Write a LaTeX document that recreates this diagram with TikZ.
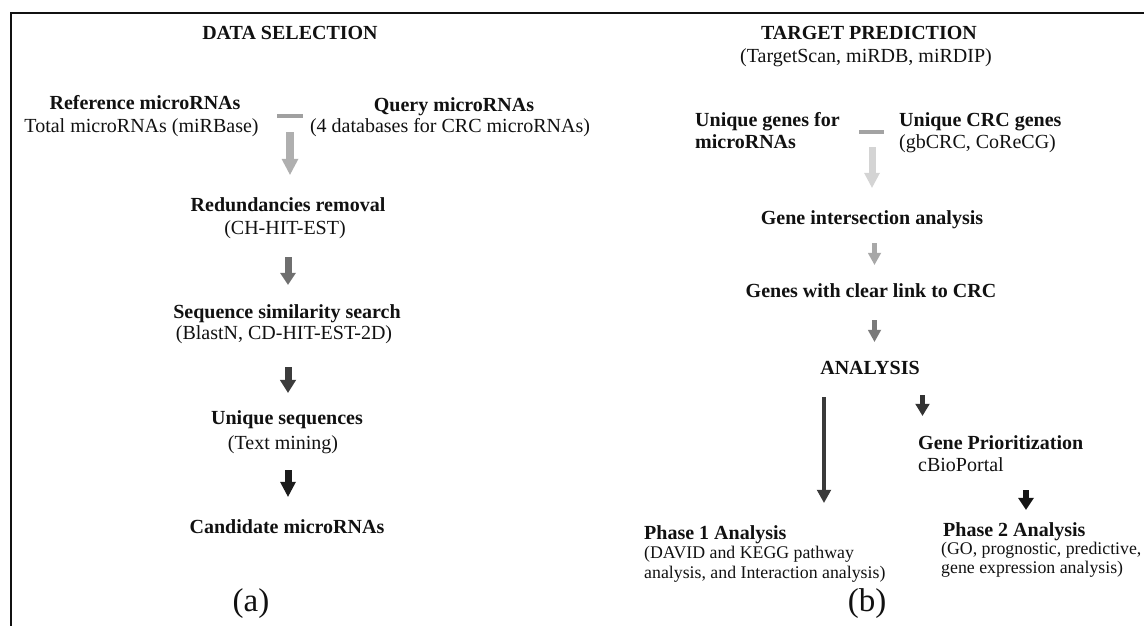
\documentclass[tikz,border=0pt]{standalone}
\usepackage{fontspec}
\setmainfont{Liberation Serif}
\usetikzlibrary{arrows.meta}
\definecolor{txt}{HTML}{111111}
\definecolor{cdashL}{HTML}{A0A0A0}
\definecolor{cLa}{HTML}{AFAFAF}
\definecolor{cLb}{HTML}{6F6F6F}
\definecolor{cLc}{HTML}{3C3C3C}
\definecolor{cLd}{HTML}{1C1C1C}
\definecolor{cdashR}{HTML}{A3A3A3}
\definecolor{cRa}{HTML}{D4D4D4}
\definecolor{cRb}{HTML}{A8A8A8}
\definecolor{cRc}{HTML}{7A7A7A}
\definecolor{cRd}{HTML}{3A3A3A}
\definecolor{cRe}{HTML}{333333}
\definecolor{cRf}{HTML}{141414}
\tikzset{
  hd/.style={inner sep=0pt, anchor=base, text=txt, text height=14pt, text depth=5pt,
    font=\fontsize{20}{24}\selectfont\bfseries},
  rg/.style={inner sep=0pt, anchor=base, text=txt, text height=14pt, text depth=5pt,
    font=\fontsize{20}{24}\selectfont},
  sm/.style={inner sep=0pt, anchor=base west, text=txt, text height=13pt, text depth=4pt,
    font=\fontsize{17.8}{22}\selectfont},
  lab/.style={inner sep=0pt, anchor=base, text=txt, font=\fontsize{33}{40}\selectfont},
  minus/.style={fill=#1, inner sep=0pt, minimum width=26pt, minimum height=4.5pt},
  barrow/.style n args={4}{line width=#1, draw=#4,
    -{Triangle[width=#2, length=#3, line width=0pt]}},
}
\begin{document}
\begin{tikzpicture}[x=1pt, y=-1pt]
\useasboundingbox (0,0) rectangle (1144,626);
% frame
\draw[line width=2pt, txt] (11,626) -- (11,13) -- (1144,13);

% ---------- (a) DATA SELECTION ----------
\node[hd] (dsel) at (290,40) {DATA SELECTION};
\node[hd] (ref)  at (145,110) {Reference microRNAs};
\node[rg] (refs) at (141.5,132) {Total microRNAs (miRBase)};
\node[hd] (qry)  at (454,111) {Query microRNAs};
\node[rg] (qrys) at (450,132) {(4 databases for CRC microRNAs)};
\node[minus=cdashL] (dashL) at (290,116) {};
\node[hd] (red)  at (288,211) {Redundancies removal};
\node[rg] (reds) at (285,234) {(CH-HIT-EST)};
\node[hd] (seq)  at (287,318) {Sequence similarity search};
\node[rg] (seqs) at (284,339) {(BlastN, CD-HIT-EST-2D)};
\node[hd] (uni)  at (287,424) {Unique sequences};
\node[rg] (unis) at (283,449) {(Text mining)};
\node[hd] (cand) at (287,533) {Candidate microRNAs};
\node[lab] (la)  at (251,611) {(a)};

\coordinate (xa1) at (290,0);
\coordinate (xa2) at (288,0);
\draw[barrow={8pt}{17pt}{16pt}{cLa}, shorten <=13.75pt, shorten >=22pt]
  (xa1 |- dashL.south) -- (xa1 |- red.north);
\draw[barrow={7pt}{16pt}{12pt}{cLb}, shorten <=18pt, shorten >=19pt]
  (xa2 |- reds.south) -- (xa2 |- seq.north);
\draw[barrow={7pt}{16.5pt}{13pt}{cLc}, shorten <=23pt, shorten >=17pt]
  (xa2 |- seqs.south) -- (xa2 |- uni.north);
\draw[barrow={7pt}{16pt}{15pt}{cLd}, shorten <=16pt, shorten >=22pt]
  (xa2 |- unis.south) -- (xa2 |- cand.north);

% ---------- (b) TARGET PREDICTION ----------
\node[hd] (tp)   at (869,40) {TARGET PREDICTION};
\node[rg] (tps)  at (866,63) {(TargetScan, miRDB, miRDIP)};
\node[hd, anchor=base west] (ug)  at (695,126) {Unique genes for};
\node[hd, anchor=base west] (ug2) at (695,148) {microRNAs};
\node[hd, anchor=base west] (uc)  at (899,126) {Unique CRC genes};
\node[rg, anchor=base west] (ucs) at (899,148) {(gbCRC, CoReCG)};
\node[minus=cdashR, minimum width=25pt, minimum height=4pt] (dashR) at (871.5,131.5) {};
\node[hd] (gia)  at (872,224) {Gene intersection analysis};
\node[hd] (gwcl) at (871,297) {Genes with clear link to CRC};
\node[hd] (ana)  at (870,374) {ANALYSIS};
\node[hd, anchor=base west] (gp)   at (918,449) {Gene Prioritization};
\node[rg, anchor=base west] (cbio) at (918,471) {cBioPortal};
\node[hd, anchor=base west] (ph1)  at (644,539) {Phase 1 Analysis};
\node[sm] (ph1a) at (644,558) {(DAVID and KEGG pathway};
\node[sm] (ph1b) at (644,578) {analysis, and Interaction analysis)};
\node[hd, anchor=base west] (ph2)  at (943,536) {Phase 2 Analysis};
\node[sm] (ph2a) at (941,554) {(GO, prognostic, predictive,};
\node[sm] (ph2b) at (941,573) {gene expression analysis)};
\node[lab] (lb)  at (867,611) {(b)};

\coordinate (xb1) at (872,0);
\coordinate (xb2) at (874.5,0);
\coordinate (xb3) at (824,0);
\coordinate (xb4) at (922.5,0);
\coordinate (xb5) at (1026,0);
\draw[barrow={7pt}{16pt}{15pt}{cRa}, shorten <=13.5pt, shorten >=22pt]
  (xb1 |- dashR.south) -- (xb1 |- gia.north);
\draw[barrow={5.5pt}{13.5pt}{12pt}{cRb}, shorten <=14pt, shorten >=18pt]
  (xb2 |- gia.south) -- (xb2 |- gwcl.north);
\draw[barrow={5.5pt}{13.5pt}{12pt}{cRc}, shorten <=18pt, shorten >=18pt]
  (xb2 |- gwcl.south) -- (xb2 |- ana.north);
\draw[barrow={4.8pt}{14.6pt}{13pt}{cRd}, shorten <=18pt, shorten >=22pt]
  (xb3 |- ana.south) -- (xb3 |- ph1.north);
\draw[barrow={4.8pt}{14.6pt}{12pt}{cRe}, shorten <=16pt, shorten >=19pt]
  (xb4 |- ana.south) -- (xb4 |- gp.north);
\draw[barrow={6pt}{16pt}{12pt}{cRf}, shorten <=14pt, shorten >=12pt]
  (xb5 |- cbio.south) -- (xb5 |- ph2.north);
\end{tikzpicture}
\end{document}
